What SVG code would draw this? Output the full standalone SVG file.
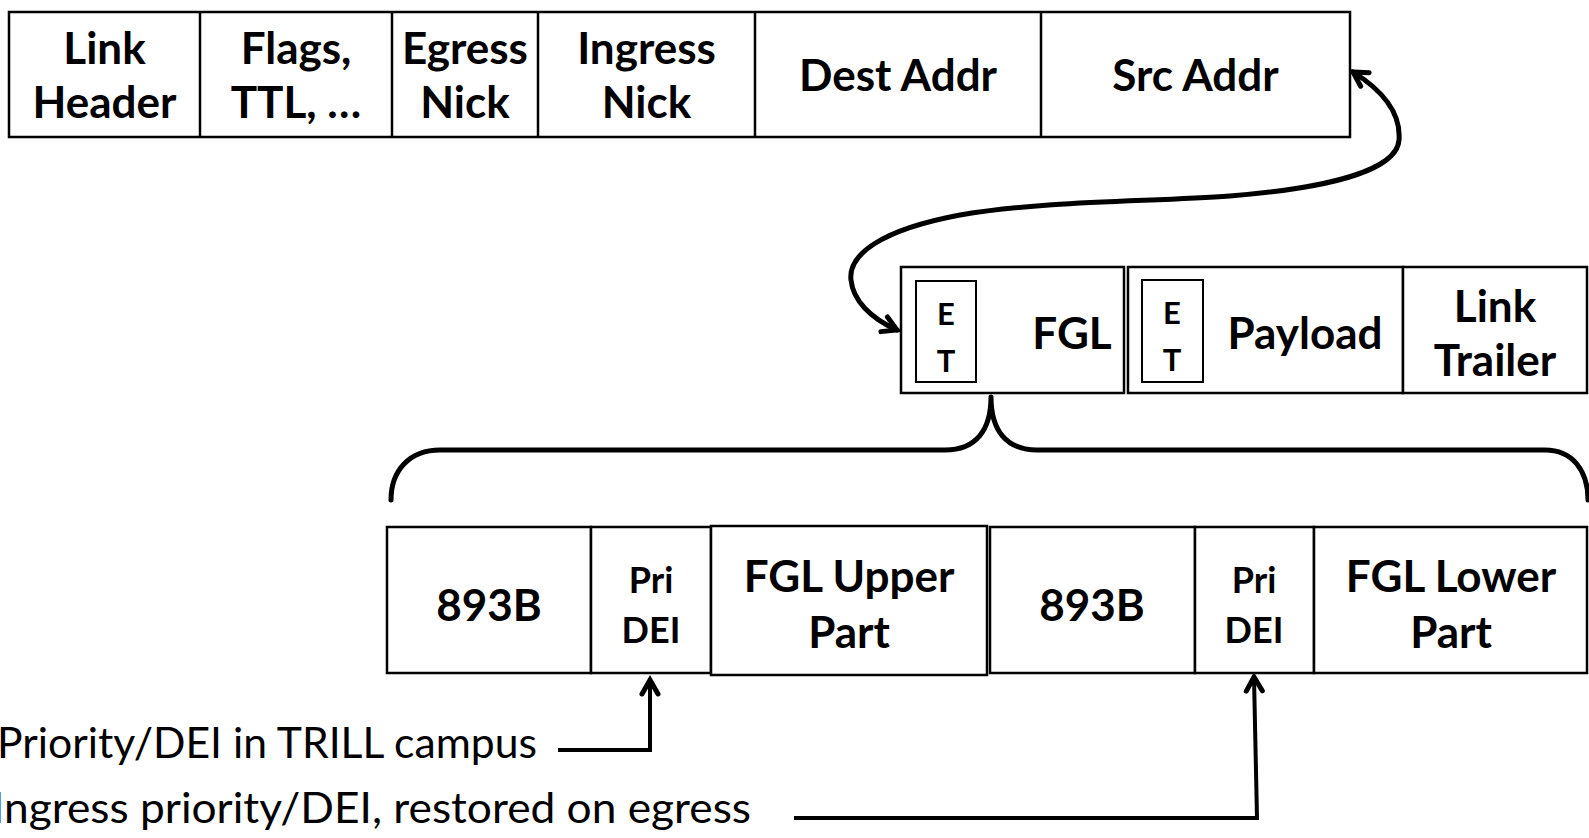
<svg xmlns="http://www.w3.org/2000/svg" width="1589" height="838" viewBox="0 0 1589 838">
<defs>
<style>
.box{fill:#fff;stroke:#000;stroke-width:2.5}
.et{fill:#fff;stroke:#000;stroke-width:2}
.div{stroke:#000;stroke-width:2.5}
.b{font-family:Lato,"Open Sans",sans-serif;font-weight:bold;font-size:44px;text-anchor:middle;fill:#000}
.s{font-size:36px}
.t{font-size:31px}
.n{font-family:Lato,"Open Sans",sans-serif;font-size:43px;fill:#000}
.c{fill:none;stroke:#000;stroke-width:5;stroke-linecap:round;stroke-linejoin:round}
.a{fill:none;stroke:#000;stroke-width:4}
</style>
<marker id="chev" markerUnits="userSpaceOnUse" markerWidth="30" markerHeight="30" refX="0" refY="0" viewBox="-20 -15 30 30" orient="auto-start-reverse" overflow="visible">
<path d="M-14,-8 L0,0 L-14,8" fill="none" stroke="#000" stroke-width="5" stroke-linecap="round" stroke-linejoin="miter"/>
</marker>
</defs>

<g id="top-header">
<rect class="box" x="9" y="12" width="1341" height="125"/>
<line class="div" x1="200" y1="12" x2="200" y2="137"/>
<line class="div" x1="392" y1="12" x2="392" y2="137"/>
<line class="div" x1="538" y1="12" x2="538" y2="137"/>
<line class="div" x1="755" y1="12" x2="755" y2="137"/>
<line class="div" x1="1041" y1="12" x2="1041" y2="137"/>
<text class="b" x="104.5" y="64">Link</text>
<text class="b" x="104.5" y="118">Header</text>
<text class="b" x="296" y="64">Flags,</text>
<text class="b" x="296" y="118">TTL, …</text>
<text class="b" x="465" y="64">Egress</text>
<text class="b" x="465" y="118">Nick</text>
<text class="b" x="646.5" y="64">Ingress</text>
<text class="b" x="646.5" y="118">Nick</text>
<text class="b" x="898" y="91">Dest Addr</text>
<text class="b" x="1195.5" y="91">Src Addr</text>
</g>

<g id="fgl-field">
<rect class="box" x="901" y="267" width="223" height="126"/>
<rect class="et" x="916" y="281" width="60" height="101"/>
<text class="b t" x="946" y="325">E</text>
<text class="b t" x="946" y="372">T</text>
<text class="b" x="1072" y="349">FGL</text>
</g>

<g id="payload-field">
<rect class="box" x="1128" y="267" width="275" height="126"/>
<rect class="et" x="1142" y="280" width="61" height="102"/>
<text class="b t" x="1172" y="324">E</text>
<text class="b t" x="1172" y="371">T</text>
<text class="b" x="1305" y="349">Payload</text>
</g>

<g id="link-trailer">
<rect class="box" x="1403" y="267" width="184" height="126"/>
<text class="b" x="1495" y="322">Link</text>
<text class="b" x="1495" y="376">Trailer</text>
</g>

<g id="upper-893b">
<rect class="box" x="387" y="527" width="204" height="146"/>
<text class="b" x="489" y="621">893B</text>
</g>
<g id="upper-pri">
<rect class="box" x="591" y="527" width="120" height="146"/>
<text class="b s" x="651" y="593">Pri</text>
<text class="b s" x="651" y="643">DEI</text>
</g>
<g id="fgl-upper">
<rect class="box" x="711" y="526" width="276" height="149"/>
<text class="b" x="849" y="592">FGL Upper</text>
<text class="b" x="849" y="648">Part</text>
</g>
<g id="lower-893b">
<rect class="box" x="990" y="527" width="205" height="146"/>
<text class="b" x="1092" y="621">893B</text>
</g>
<g id="lower-pri">
<rect class="box" x="1195" y="527" width="119" height="146"/>
<text class="b s" x="1254" y="593">Pri</text>
<text class="b s" x="1254" y="643">DEI</text>
</g>
<g id="fgl-lower">
<rect class="box" x="1314" y="527" width="273" height="146"/>
<text class="b" x="1451" y="592">FGL Lower</text>
<text class="b" x="1451" y="648">Part</text>
</g>

<g id="label-campus">
<text class="n" x="-3" y="758" textLength="540" lengthAdjust="spacingAndGlyphs">Priority/DEI in TRILL campus</text>
</g>
<g id="label-ingress">
<text class="n" x="-8" y="823" textLength="759" lengthAdjust="spacingAndGlyphs">Ingress priority/DEI, restored on egress</text>
</g>

<g id="connectors">
<path class="c" d="M1353,72 C1385,92 1401,115 1399,140 C1397,170 1330,188 1230,196 C1150,202 1050,200 960,215 C880,230 848,255 851,280 C853,300 870,318 897,330" marker-start="url(#chev)" marker-end="url(#chev)"/>
<path class="c" d="M391,500 C391,470 410,450 440,450 L945,450 C976,450 991,430 991,397 C991,430 1006,450 1037,450 L1545,450 C1572,450 1588,470 1588,500"/>
<path class="a" d="M558,750 L650,750 L650,680" marker-end="url(#chev)"/>
<path class="a" d="M794,818 L1257,818 L1254,677" marker-end="url(#chev)"/>
</g>
</svg>
